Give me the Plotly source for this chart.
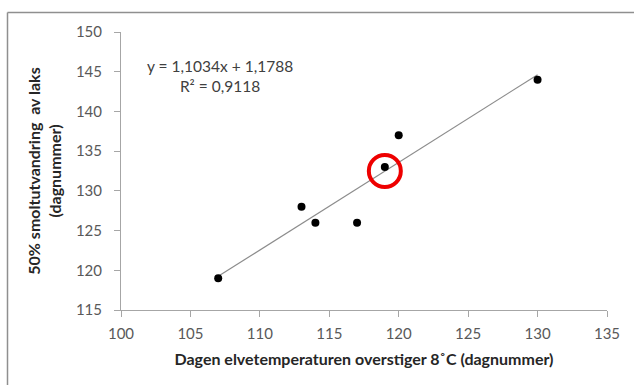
import plotly.graph_objects as go

# Day number when river temperature first exceeds 8 °C vs. day of 50 % smolt run
temp_day = [107, 113, 114, 117, 119, 120, 130]
smolt_day = [119, 128, 126, 126, 133, 137, 144]

slope, intercept = 1.1034, 1.1788
r2 = 0.9118
trend_x = [min(temp_day), max(temp_day)]
trend_y = [slope * v + intercept for v in trend_x]

x_ticks = [100, 105, 110, 115, 120, 125, 130, 135]
y_ticks = [115, 120, 125, 130, 135, 140, 145, 150]

highlight_x, highlight_y = 119, 132.5

W, H = 634, 385
ML, MR, MT, MB = 121, 27, 32, 75
font_family = "Lato, 'Open Sans', sans-serif"

fig = go.Figure()
fig.add_trace(go.Scatter(
    x=trend_x, y=trend_y, mode="lines",
    line=dict(color="#8c8c8c", width=1.2), hoverinfo="skip", showlegend=False,
))
fig.add_trace(go.Scatter(
    x=temp_day, y=smolt_day, mode="markers",
    marker=dict(color="black", size=8), showlegend=False,
))
# red ring around the highlighted year
fig.add_trace(go.Scatter(
    x=[highlight_x], y=[highlight_y], mode="markers",
    marker=dict(symbol="circle-open", size=32, color="#ee0000",
                line=dict(color="#ee0000", width=4)),
    hoverinfo="skip", showlegend=False,
))

fig.add_annotation(
    x=107.1, y=144.5, xref="x", yref="y",
    text=f"y = {str(slope).replace('.', ',')}x + {str(intercept).replace('.', ',')}<br>"
         f"R² = {str(r2).replace('.', ',')}",
    showarrow=False, align="center",
    font=dict(family=font_family, size=15.5, color="#404040"),
)

# outer frame (only top and left edges fall inside the page)
pw, ph = W - ML - MR, H - MT - MB
fx0 = (7.5 - ML) / pw
fy1 = 1 + (MT - 12.5) / ph
fig.add_shape(type="line", xref="paper", yref="paper",
              x0=fx0, x1=1 + MR / pw + 0.01, y0=fy1, y1=fy1,
              line=dict(color="#8f8f8f", width=1.5))
fig.add_shape(type="line", xref="paper", yref="paper",
              x0=fx0, x1=fx0, y0=fy1, y1=-MB / ph - 0.01,
              line=dict(color="#8f8f8f", width=1.5))

axis_common = dict(
    showgrid=False, zeroline=False, showline=True,
    linecolor="#a6a6a6", linewidth=1,
    ticks="outside", ticklen=6, tickcolor="#a6a6a6",
    tickfont=dict(family=font_family, size=15, color="#595959"),
)
fig.update_xaxes(
    range=[100, 135], tickvals=x_ticks, mirror=False, ticklabelstandoff=4,
    title=dict(text="<b>Dagen elvetemperaturen overstiger 8˚C (dagnummer)</b>",
               font=dict(family=font_family, size=16, color="#262626"), standoff=12),
    **axis_common,
)
fig.update_yaxes(
    range=[115, 150], tickvals=y_ticks, ticklabelstandoff=9,
    title=dict(text="<b>50% smoltutvandring  av laks<br>(dagnummer)</b>",
               font=dict(family=font_family, size=16, color="#262626"), standoff=10),
    **axis_common,
)

fig.update_layout(
    width=W, height=H,
    margin=dict(l=ML, r=MR, t=MT, b=MB),
    paper_bgcolor="white", plot_bgcolor="white",
)

fig.write_html("out.html")
